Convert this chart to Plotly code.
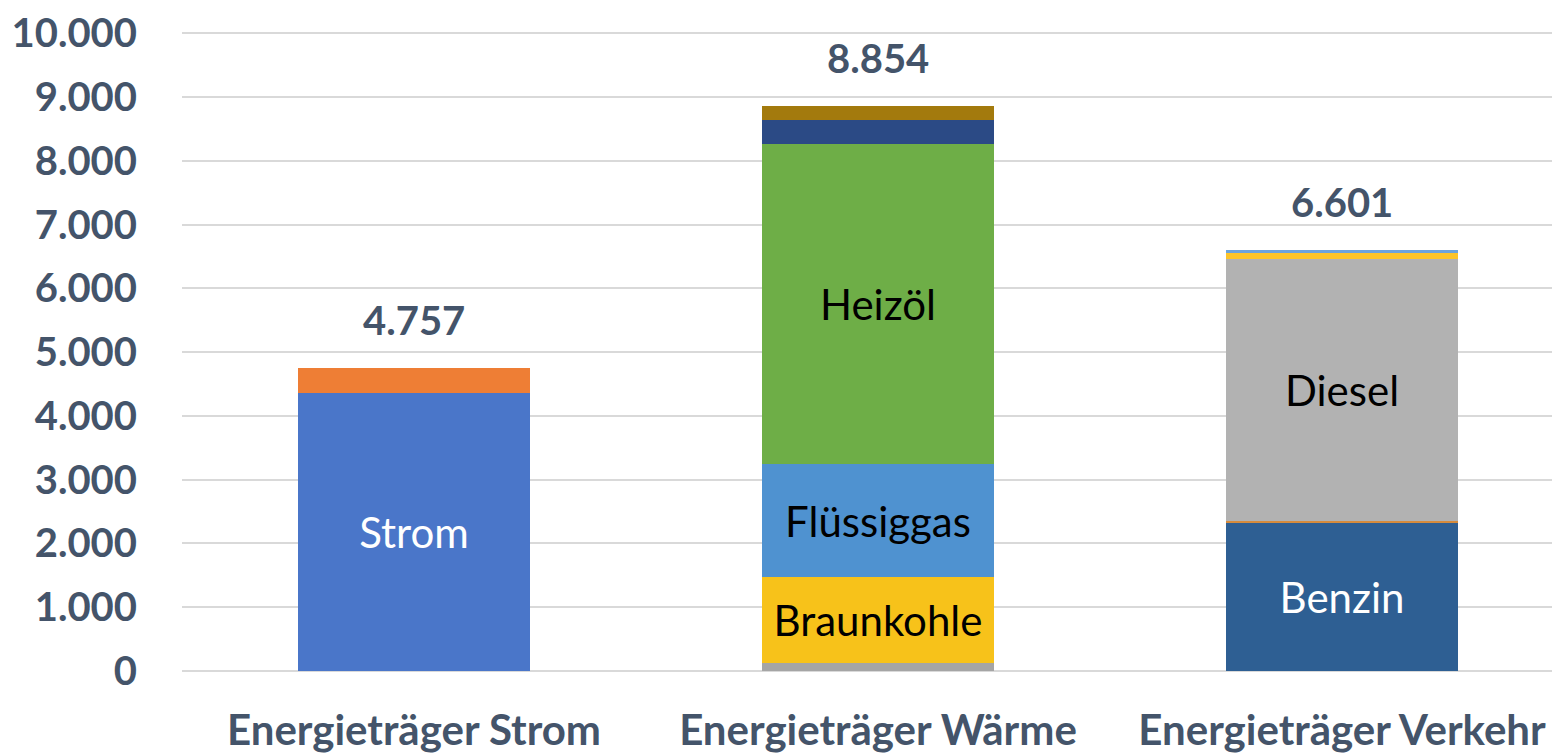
import plotly.graph_objects as go

categories = ["Energieträger Strom", "Energieträger Wärme", "Energieträger Verkehr"]
totals = [4757, 8854, 6601]
tick_values = [0, 1000, 2000, 3000, 4000, 5000, 6000, 7000, 8000, 9000, 10000]

# segments per category (bottom to top)
strom_values = [4360, 397]
strom_labels = ["Strom", ""]
strom_colors = ["#4a76c9", "#ee7e35"]
strom_textcolors = ["white", "black"]

waerme_values = [130, 1350, 1760, 5030, 370, 214]
waerme_labels = ["", "Braunkohle", "Flüssiggas", "Heizöl", "", ""]
waerme_colors = ["#a5a5a5", "#f7c21a", "#4f92d0", "#6eae47", "#2b4a85", "#a37a0d"]
waerme_textcolors = ["black"] * 6

verkehr_values = [2330, 25, 4105, 95, 46]
verkehr_labels = ["Benzin", "", "Diesel", "", ""]
verkehr_colors = ["#2e5f93", "#d68b3c", "#b2b2b2", "#fcc42a", "#6ba3dd"]
verkehr_textcolors = ["white", "black", "black", "black", "black"]

FONT = "Lato"
TXT = "#44546a"

fig = go.Figure()

groups = [
    (categories[0], strom_values, strom_labels, strom_colors, strom_textcolors),
    (categories[1], waerme_values, waerme_labels, waerme_colors, waerme_textcolors),
    (categories[2], verkehr_values, verkehr_labels, verkehr_colors, verkehr_textcolors),
]

for cat, vals, labels, colors, tcolors in groups:
    for v, lab, col, tc in zip(vals, labels, colors, tcolors):
        fig.add_trace(go.Bar(
            x=[cat], y=[v], width=0.5,
            marker=dict(color=col, line=dict(width=0)),
            text=[lab], textposition="inside", insidetextanchor="middle",
            constraintext="none",
            textfont=dict(family=FONT, size=42, color=tc),
            hoverinfo="skip", showlegend=False,
        ))

for cat, tot in zip(categories, totals):
    fig.add_annotation(
        x=cat, y=tot, text=f"{tot:,}".replace(",", "."),
        showarrow=False, yanchor="bottom", yshift=22,
        font=dict(family=FONT, size=40, color=TXT, weight="bold"),
    )

fig.update_layout(
    width=1560, height=754,
    barmode="stack",
    separators=",.",
    plot_bgcolor="white", paper_bgcolor="white",
    margin=dict(l=174, r=0, t=15, b=91),
    showlegend=False,
    xaxis=dict(
        range=[-0.5, 2.487], showgrid=False, showline=False, ticks="",
        tickfont=dict(family=FONT, size=42, color=TXT, weight="bold"),
        ticklabelstandoff=31,
    ),
    yaxis=dict(
        range=[0, 10100], tickvals=tick_values, tickformat=",.0f",
        showgrid=True, gridcolor="#d9d9d9", gridwidth=2,
        zeroline=True, zerolinecolor="#d9d9d9", zerolinewidth=2,
        showline=False, ticks="",
        tickfont=dict(family=FONT, size=40, color=TXT, weight="bold"),
        ticklabelstandoff=44, ticklabeloverflow="allow",
    ),
)

fig.write_html("out.html")
